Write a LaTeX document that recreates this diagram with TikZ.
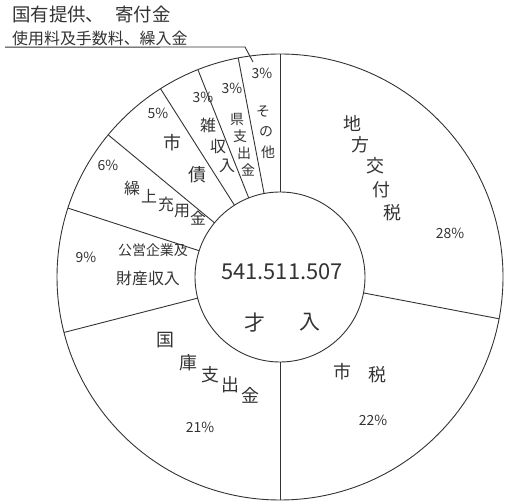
\documentclass[tikz,border=0pt]{standalone}
\usepackage{fontspec}
\newfontfamily\jp{Noto Sans CJK JP}
\definecolor{pen}{gray}{0.2}
\begin{document}
\begin{tikzpicture}[x=1bp,y=1bp]

    \tikzset{
      lbl/.style={
        font=\jp\fontsize{18}{18}\selectfont,
        text=pen,
        inner sep=0pt,
        anchor=center,
      },
      sml/.style={lbl, font=\jp\fontsize{14}{14}\selectfont},
      pct/.style={lbl, font=\jp\fontsize{14}{14}\selectfont},
      pen line/.style={draw=pen, line width=0.9bp},
    }
    \useasboundingbox (0,0) rectangle (504,504);
    \coordinate (c) at (280,227);
	\draw[pen line] (c) circle (223);
	\draw[pen line] (c) circle (85);
	\foreach \a in {90,-10.8,-90,194.4,162,140.4,122.4,111.6,100.8}
	  \draw[pen line] ([shift={(\a:85)}]c) -- ([shift={(\a:223)}]c);
	\node[lbl, font=\jp\fontsize{16}{23}\selectfont, anchor=north west, align=left] (note) at (12,498) {{\fontsize{18.5}{23}\selectfont 国有提供、\hspace{0.6em}寄付金}\\使用料及手数料、繰入金};
	\coordinate (tip) at (253,442);
	\draw[pen line] ([shift={(-7,-1)}]note.south west) -- (245,457) -- (tip);
	\node[lbl, font=\jp\fontsize{22}{22}\selectfont] (total) at (282,232) {541.511.507};
	\node[lbl, font=\jp\fontsize{21}{21}\selectfont] (sai) at (255,181) {才};
	\node[lbl, font=\jp\fontsize{21}{21}\selectfont] (nyu) at (310,182) {入};
	\foreach \t/\x/\y [count=\i] in {地/352/381,方/360/359,交/375/338,付/381/314,税/392/291}
	  \node[lbl] (kofu\i) at (\x,\y) {\t};
	\node[pct] (p28) at (450,271) {28\%};
	\node[lbl] (shi1) at (342,132) {市};
	\node[lbl] (shi2) at (377,129) {税};
	\node[pct] (p22) at (373,84) {22\%};
	\foreach \t/\x/\y [count=\i] in {国/165/164,庫/188/141,支/210/129,出/230/119,金/250/109}
	  \node[lbl] (koko\i) at (\x,\y) {\t};
	\node[pct] (p21) at (200,77) {21\%};
	\node[pct] (p9) at (86,247) {9\%};
	\node[sml] (kouei) at (153,254) {公営企業及};
	\node[lbl, font=\jp\fontsize{16}{16}\selectfont] (zaisan) at (148,226) {財産収入};
	\node[pct] (p6) at (108,339) {6\%};
	\foreach \t/\x/\y [count=\i] in {繰/132/316,上/149/308,充/166/300,用/182/293,金/198/286}
	  \node[lbl, font=\jp\fontsize{16}{16}\selectfont] (kuri\i) at (\x,\y) {\t};
	\node[pct] (p5) at (158,391) {5\%};
	\node[lbl] (sai1) at (172,361) {市};
	\node[lbl] (sai2) at (197,329) {債};
	\node[pct] (p3a) at (203,407) {3\%};
	\foreach \t/\x/\y [count=\i] in {雑/208/379,収/218/358,入/227/338}
	  \node[lbl, font=\jp\fontsize{16}{16}\selectfont] (zatsu\i) at (\x,\y) {\t};
	\node[pct] (p3b) at (232,416) {3\%};
	\foreach \t/\x/\y [count=\i] in {県/237/385,支/240/368,出/244/351,金/248/334}
	  \node[sml] (ken\i) at (\x,\y) {\t};
	\node[pct] (p3c) at (262,431) {3\%};
	\foreach \t/\x/\y [count=\i] in {そ/263/392,の/266/372,他/268/352}
	  \node[sml] (sono\i) at (\x,\y) {\t};

\end{tikzpicture}
\end{document}
